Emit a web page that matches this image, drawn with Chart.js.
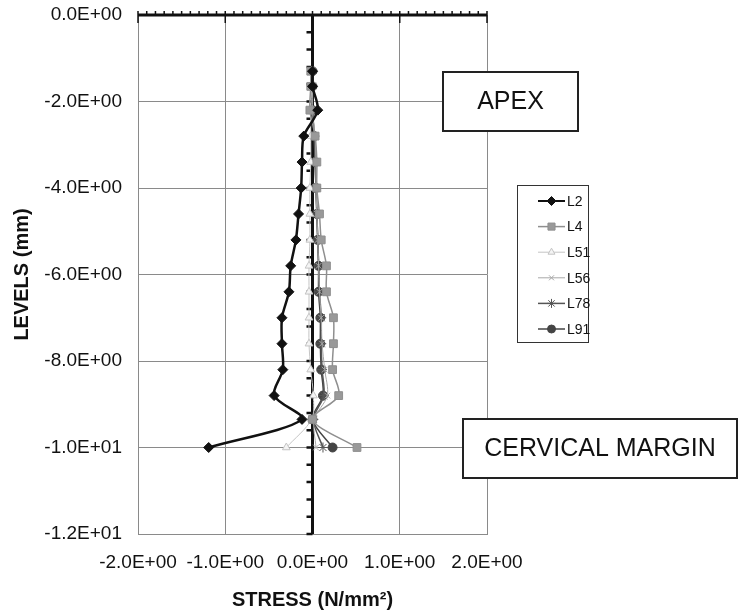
<!DOCTYPE html>
<html>
<head>
<meta charset="utf-8">
<title>Stress by level</title>
<script src="https://cdn.jsdelivr.net/npm/chart.js@4.4.1/dist/chart.umd.min.js"></script>
<style>
  body { margin: 0; background: #fff; }
</style>
</head>
<body>
<canvas id="chartLine" width="740" height="615"></canvas>
<script>
// levels (mm) shared by every series
const levels = [-1.3, -1.65, -2.2, -2.8, -3.4, -4.0, -4.6, -5.2, -5.8, -6.4, -7.0, -7.6, -8.2, -8.8, -9.35, -10.0]

// stress (N/mm2) per series
const stressL2 = [0.0, 0.0, 0.06, -0.10, -0.12, -0.13, -0.16, -0.19, -0.25, -0.27, -0.35, -0.35, -0.34, -0.44, -0.12, -1.19]
const stressL4 = [-0.02, -0.02, -0.03, 0.03, 0.05, 0.05, 0.08, 0.10, 0.16, 0.16, 0.24, 0.24, 0.23, 0.30, 0.0, 0.51]
const stressL51 = [-0.01, -0.01, -0.02, -0.02, -0.02, -0.03, -0.03, -0.03, -0.04, -0.04, -0.04, -0.04, -0.02, 0.01, -0.01, -0.30]
const stressL56 = [0.0, 0.0, 0.0, 0.03, 0.04, 0.04, 0.05, 0.06, 0.07, 0.08, 0.10, 0.11, 0.14, 0.17, 0.02, 0.04]
const stressL78 = [0.0, 0.0, 0.0, 0.02, 0.03, 0.04, 0.05, 0.06, 0.07, 0.08, 0.10, 0.10, 0.11, 0.13, 0.01, 0.12]
const stressL91 = [0.0, 0.0, 0.0, 0.02, 0.03, 0.04, 0.05, 0.06, 0.07, 0.07, 0.09, 0.09, 0.10, 0.12, 0.0, 0.23]

const seriesNames = ['L2', 'L4', 'L51', 'L56', 'L78', 'L91']
const seriesValues = [stressL2, stressL4, stressL51, stressL56, stressL78, stressL91]

const xTicks = [-2, -1, 0, 1, 2]
const yTicks = [0, -2, -4, -6, -8, -10, -12]
const boxLabels = ['APEX', 'CERVICAL MARGIN']

const FONT = "'Liberation Sans', Arial, sans-serif"

const looks = [
  { color: '#111', width: 2.5, style: 'rectRot', radius: 5, fill: '#111' },
  { color: '#8f8f8f', width: 1.5, style: 'rect', radius: 5.5, fill: '#999' },
  { color: '#c4c4c4', width: 1, style: 'triangle', radius: 4.5, fill: '#f4f4f4' },
  { color: '#a8a8a8', width: 1, style: 'crossRot', radius: 4, fill: '#a8a8a8' },
  { color: '#555', width: 1.5, style: 'star', radius: 5, fill: '#555' },
  { color: '#444', width: 1.5, style: 'circle', radius: 4.5, fill: '#444' }
]

const fmtE = v => {
  const [m, e] = Number(v).toExponential(1).split('e')
  const sign = e[0] === '-' ? '-' : '+'
  return m + 'E' + sign + e.replace(/[+-]/, '').padStart(2, '0')
}

const datasets = seriesNames.map((name, i) => ({
  label: name,
  data: levels.map((lv, j) => ({ x: seriesValues[i][j], y: lv })),
  showLine: true,
  tension: 0.3,
  borderColor: looks[i].color,
  borderWidth: looks[i].width,
  pointStyle: looks[i].style,
  pointRadius: looks[i].radius,
  pointBorderColor: looks[i].color,
  pointBackgroundColor: looks[i].fill,
  pointBorderWidth: 1
}))

const overlay = {
  id: 'overlay',
  beforeDatasetsDraw (chart) {
    const { ctx, scales: { x, y } } = chart
    const x0 = x.getPixelForValue(0)
    const y0 = y.getPixelForValue(0)
    ctx.save()
    ctx.strokeStyle = '#111'
    // stress axis crossing at level 0
    ctx.lineWidth = 3
    ctx.beginPath()
    ctx.moveTo(x.left, y0)
    ctx.lineTo(x.right, y0)
    ctx.stroke()
    ctx.lineWidth = 1.5
    ctx.beginPath()
    for (let k = -20; k <= 20; k++) {
      const px = x.getPixelForValue(k / 10)
      ctx.moveTo(px, y0)
      ctx.lineTo(px, y0 - 4)
    }
    xTicks.forEach(v => {
      const px = x.getPixelForValue(v)
      ctx.moveTo(px, y0 - 4)
      ctx.lineTo(px, y0 + 8)
    })
    ctx.stroke()
    // level axis crossing at stress 0
    ctx.lineWidth = 3
    ctx.beginPath()
    ctx.moveTo(x0, y0)
    ctx.lineTo(x0, y.getPixelForValue(-12))
    ctx.stroke()
    ctx.lineWidth = 2.5
    ctx.beginPath()
    for (let k = 1; k <= 30; k++) {
      const py = y.getPixelForValue(-k * 0.4)
      ctx.moveTo(x0, py)
      ctx.lineTo(x0 - 6, py)
    }
    ctx.stroke()
    ctx.restore()
  },
  afterDraw (chart) {
    const { ctx } = chart
    ctx.save()
    // legend
    ctx.fillStyle = '#fff'
    ctx.strokeStyle = '#333'
    ctx.lineWidth = 1
    ctx.fillRect(517, 185, 71, 157)
    ctx.strokeRect(517.5, 185.5, 71, 157)
    chart.data.datasets.forEach((ds, i) => {
      const cy = 201 + i * 25.6
      ctx.strokeStyle = ds.borderColor
      ctx.lineWidth = Math.min(ds.borderWidth, 2)
      ctx.beginPath()
      ctx.moveTo(538, cy)
      ctx.lineTo(565, cy)
      ctx.stroke()
      ctx.fillStyle = ds.pointBackgroundColor
      ctx.strokeStyle = ds.pointBorderColor
      ctx.lineWidth = 1
      Chart.helpers.drawPoint(ctx, { pointStyle: ds.pointStyle, radius: ds.pointRadius - 0.5, borderWidth: 1, rotation: 0 }, 551.5, cy)
      ctx.fillStyle = '#111'
      ctx.font = '14px ' + FONT
      ctx.textAlign = 'left'
      ctx.textBaseline = 'middle'
      ctx.fillText(ds.label, 567, cy + 1)
    })
    // annotation boxes
    const boxes = [
      { text: boxLabels[0], l: 443, t: 72, w: 135, h: 59 },
      { text: boxLabels[1], l: 463, t: 419, w: 274, h: 59 }
    ]
    boxes.forEach(b => {
      ctx.fillStyle = '#fff'
      ctx.fillRect(b.l, b.t, b.w, b.h)
      ctx.strokeStyle = '#222'
      ctx.lineWidth = 2
      ctx.strokeRect(b.l, b.t, b.w, b.h)
      ctx.fillStyle = '#111'
      ctx.font = '25px ' + FONT
      ctx.textAlign = 'center'
      ctx.textBaseline = 'middle'
      ctx.fillText(b.text, b.l + b.w / 2, b.t + b.h / 2 + 1)
    })
    ctx.restore()
  }
}

const config = {
  type: 'scatter',
  data: { datasets },
  options: {
    responsive: false,
    animation: false,
    devicePixelRatio: 1,
    layout: { padding: { top: 15, right: 253, left: 0, bottom: 0 } },
    plugins: { legend: { display: false }, tooltip: { enabled: false } },
    scales: {
      x: {
        type: 'linear',
        min: -2,
        max: 2,
        afterBuildTicks: s => { s.ticks = xTicks.map(v => ({ value: v })) },
        afterFit: s => { s.height = 81; s.paddingLeft = 0; s.paddingRight = 0 },
        grid: { color: '#8a8a8a', lineWidth: 1, drawTicks: false },
        border: { color: '#8a8a8a' },
        ticks: { callback: fmtE, color: '#111', font: { family: FONT, size: 19 }, padding: 17, maxRotation: 0 },
        title: { display: true, text: 'STRESS (N/mm²)', color: '#111', font: { family: FONT, size: 20, weight: 'bold' }, padding: { top: 0, bottom: 3 } }
      },
      y: {
        type: 'linear',
        min: -12,
        max: 0,
        afterBuildTicks: s => { s.ticks = yTicks.map(v => ({ value: v })) },
        afterFit: s => { s.width = 138; s.paddingTop = 0; s.paddingBottom = 0 },
        grid: { color: '#8a8a8a', lineWidth: 1, drawTicks: false },
        border: { color: '#8a8a8a' },
        ticks: { callback: fmtE, color: '#111', font: { family: FONT, size: 19 }, padding: 16 },
        title: { display: true, text: 'LEVELS (mm)', color: '#111', font: { family: FONT, size: 20, weight: 'bold' }, padding: { top: 10, bottom: 0 } }
      }
    }
  },
  plugins: [overlay]
}

const canvas = document.getElementById('chartLine').getContext('2d')
window.stressChart = new Chart(canvas, config)
</script>
</body>
</html>
